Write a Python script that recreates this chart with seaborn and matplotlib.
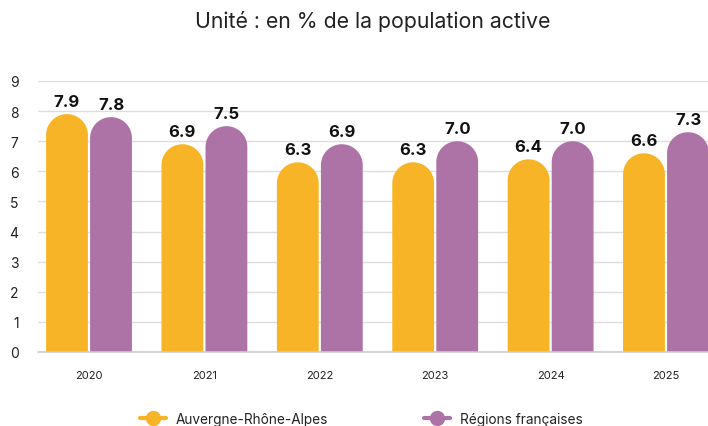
import numpy as np
import pandas as pd
import matplotlib
matplotlib.use("Agg")
import matplotlib.pyplot as plt
import seaborn as sns
from matplotlib.patches import Polygon
from matplotlib.lines import Line2D

years = ["2020", "2021", "2022", "2023", "2024", "2025"]
aura = [7.9, 6.9, 6.3, 6.3, 6.4, 6.6]
regions = [7.8, 7.5, 6.9, 7.0, 7.0, 7.3]
series_names = ["Auvergne-Rhône-Alpes", "Régions françaises"]
colors = ["#F8B427", "#AD72A6"]

df = pd.DataFrame({
    "year": years * 2,
    "value": aura + regions,
    "serie": [series_names[0]] * len(years) + [series_names[1]] * len(years),
})

sns.set_style("white")
plt.rcParams["font.family"] = ["Inter", "DejaVu Sans"]

W, H = 708, 427
fig = plt.figure(figsize=(W / 100, H / 100), dpi=100)
ax_left, ax_right, ax_top, ax_bot = 38, 708, 82, 353
ax = fig.add_axes([ax_left / W, 1 - ax_bot / H, (ax_right - ax_left) / W, (ax_bot - ax_top) / H])

sns.barplot(data=df, x="year", y="value", hue="serie", palette=colors,
            width=0.763, gap=0.05, ax=ax, legend=False, saturation=1)

xlim = (-0.442, 5.364)
ylim = (0, 9)
ax.set_xlim(*xlim)
ax.set_ylim(*ylim)

# round the top of each bar (semicircle in pixel space)
px_per_x = (ax_right - ax_left) / (xlim[1] - xlim[0])
px_per_y = (ax_bot - ax_top) / (ylim[1] - ylim[0])
for p in list(ax.patches):
    x0, w, h = p.get_x(), p.get_width(), p.get_height()
    if h <= 0:
        continue
    r_px = w * px_per_x / 2
    ry = r_px / px_per_y
    rx = w / 2
    cx = x0 + rx
    t = np.linspace(np.pi, 0, 60)
    arc = np.column_stack([cx + rx * np.cos(t), h - ry + ry * np.sin(t)])
    pts = np.vstack([[x0, 0], arc, [x0 + w, 0]])
    poly = Polygon(pts, closed=True, facecolor=p.get_facecolor(), edgecolor="none", zorder=2)
    ax.add_patch(poly)
    p.remove()
    ax.text(cx, h + 5 / px_per_y, f"{h:.1f}", ha="center", va="bottom",
            fontsize=12, fontweight="bold", color="#111111", zorder=3)

ax.set_yticks(range(0, 10))
ax.yaxis.grid(True, color="#DDDDDD", linewidth=1)
ax.set_axisbelow(True)
for s in ["left", "right", "top"]:
    ax.spines[s].set_visible(False)
ax.spines["bottom"].set_color("#CCCCCC")
ax.spines["bottom"].set_linewidth(1.2)
ax.tick_params(axis="y", length=0, labelsize=10, colors="#222222", pad=14)
ax.tick_params(axis="x", length=0, labelsize=8, colors="#222222", pad=13)
ax.set_xlabel("")
ax.set_ylabel("")

fig.text((ax_left + ax_right) / 2 / W, 1 - 22 / H, "Unité : en % de la population active",
         ha="center", va="center", fontsize=15.3, color="#222222")

handles = [Line2D([0], [0], color=c, linewidth=3, marker="o", markersize=10,
                  solid_capstyle="round") for c in colors]
fig.legend(handles, series_names, loc="center", bbox_to_anchor=(0.51, 1 - 420 / H),
           ncol=2, frameon=False, fontsize=9.8, columnspacing=7.1, handlelength=1.9,
           handletextpad=0.7, labelcolor="#222222")

fig.savefig("out.png", dpi=100)
